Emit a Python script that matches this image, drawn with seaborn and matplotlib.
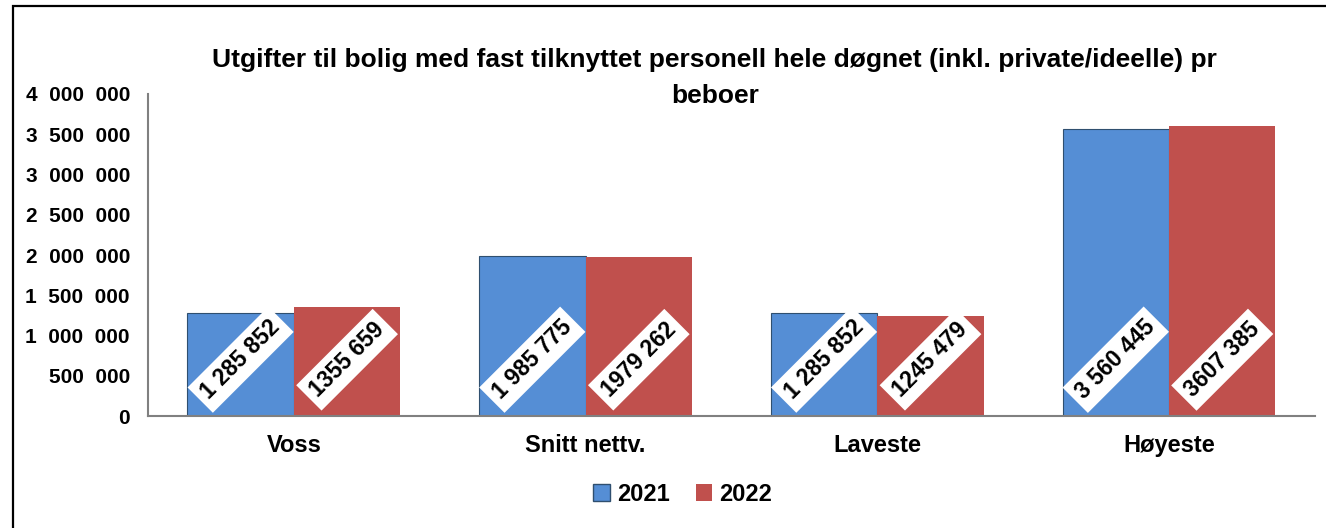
import matplotlib
matplotlib.use("Agg")
import matplotlib.pyplot as plt
import matplotlib.ticker as mticker
from matplotlib.patches import Rectangle
import pandas as pd
import seaborn as sns

# data
categories = ["Voss", "Snitt nettv.", "Laveste", "Høyeste"]
years = ["2021", "2022"]
values_2021 = [1285852, 1985775, 1285852, 3560445]
values_2022 = [1355659, 1979262, 1245479, 3607385]
labels_2021 = ["1 285 852", "1 985 775", "1 285 852", "3 560 445"]
labels_2022 = ["1355 659", "1979 262", "1245 479", "3607 385"]

title = ("Utgifter til bolig med fast tilknyttet personell hele døgnet "
         "(inkl. private/ideelle) pr\nbeboer")

colors = {"2021": "#558ED5", "2022": "#C0504D"}


def build_frame():
    rows = []
    for cat, v1, v2 in zip(categories, values_2021, values_2022):
        rows.append({"kategori": cat, "år": "2021", "verdi": v1})
        rows.append({"kategori": cat, "år": "2022", "verdi": v2})
    return pd.DataFrame(rows)


def main():
    sns.set_style("white")
    plt.rcParams["font.family"] = ["Liberation Sans", "DejaVu Sans"]
    plt.rcParams["font.weight"] = "bold"
    plt.rcParams["text.color"] = "black"
    plt.rcParams["xtick.color"] = "black"
    plt.rcParams["ytick.color"] = "black"

    df = build_frame()
    fig = plt.figure(figsize=(13.26, 5.28), dpi=100)
    ax = fig.add_axes([0.1116, 0.212, 0.88, 0.610])

    sns.barplot(data=df, x="kategori", y="verdi", hue="år", order=categories,
                hue_order=years, palette=colors, width=0.73, saturation=1,
                legend=False, ax=ax)

    # edges: thin dark on blue, none on red
    for bar in ax.containers[0]:
        bar.set_edgecolor("#2F4F6F")
        bar.set_linewidth(0.8)
    for bar in ax.containers[1]:
        bar.set_edgecolor("none")

    # rotated white value boxes
    for container, labs in zip(ax.containers, [labels_2021, labels_2022]):
        for bar, lab in zip(container, labs):
            xc = bar.get_x() + bar.get_width() / 2
            ax.text(xc, 700000, lab, rotation=45, ha="center", va="center",
                    rotation_mode="anchor", fontsize=16.5, fontweight="bold",
                    color="black",
                    bbox=dict(boxstyle="square,pad=0.28", fc="white", ec="none"))

    ax.set_ylim(0, 4000000)
    ax.set_xlim(-0.5, len(categories) - 0.5)
    ax.yaxis.set_major_locator(mticker.MultipleLocator(500000))
    ax.yaxis.set_major_formatter(mticker.FuncFormatter(
        lambda v, p: f"{int(v):,}".replace(",", "  ")))
    ax.set_xlabel("")
    ax.set_ylabel("")

    ax.set_xticks(range(len(categories)))
    ax.set_xticklabels(categories, fontsize=17, fontweight="bold")
    ax.set_xticks([i - 0.5 for i in range(len(categories) + 1)], minor=True)
    ax.tick_params(axis="x", which="major", length=0, pad=13)
    ax.tick_params(axis="x", which="minor", length=7, color="#808080", width=1.5)
    ax.tick_params(axis="y", length=7, color="#808080", width=1.5, labelsize=15, pad=6)
    for t in ax.get_yticklabels():
        t.set_fontweight("bold")

    for side in ["top", "right"]:
        ax.spines[side].set_visible(False)
    for side in ["left", "bottom"]:
        ax.spines[side].set_color("#808080")
        ax.spines[side].set_linewidth(1.5)

    fig.text(0.539, 0.852, title, ha="center", va="center", fontsize=19,
             fontweight="bold", linespacing=1.6)

    # legend
    handles = [Rectangle((0, 0), 1, 1, fc=colors["2021"], ec="#2F4F6F", lw=1),
               Rectangle((0, 0), 1, 1, fc=colors["2022"], ec="none")]
    fig.legend(handles, years, loc="center", bbox_to_anchor=(0.515, 0.064),
               ncol=2, frameon=False, handlelength=0.7, handleheight=0.7,
               handletextpad=0.3, columnspacing=1.1,
               prop={"size": 17, "weight": "bold"})

    # outer frame
    fig.patches.append(Rectangle((0.010, -0.1), 1.1, 1.089, transform=fig.transFigure,
                                 fill=False, ec="black", lw=1.6, figure=fig))

    fig.savefig("out.png", dpi=100)


if __name__ == "__main__":
    main()
